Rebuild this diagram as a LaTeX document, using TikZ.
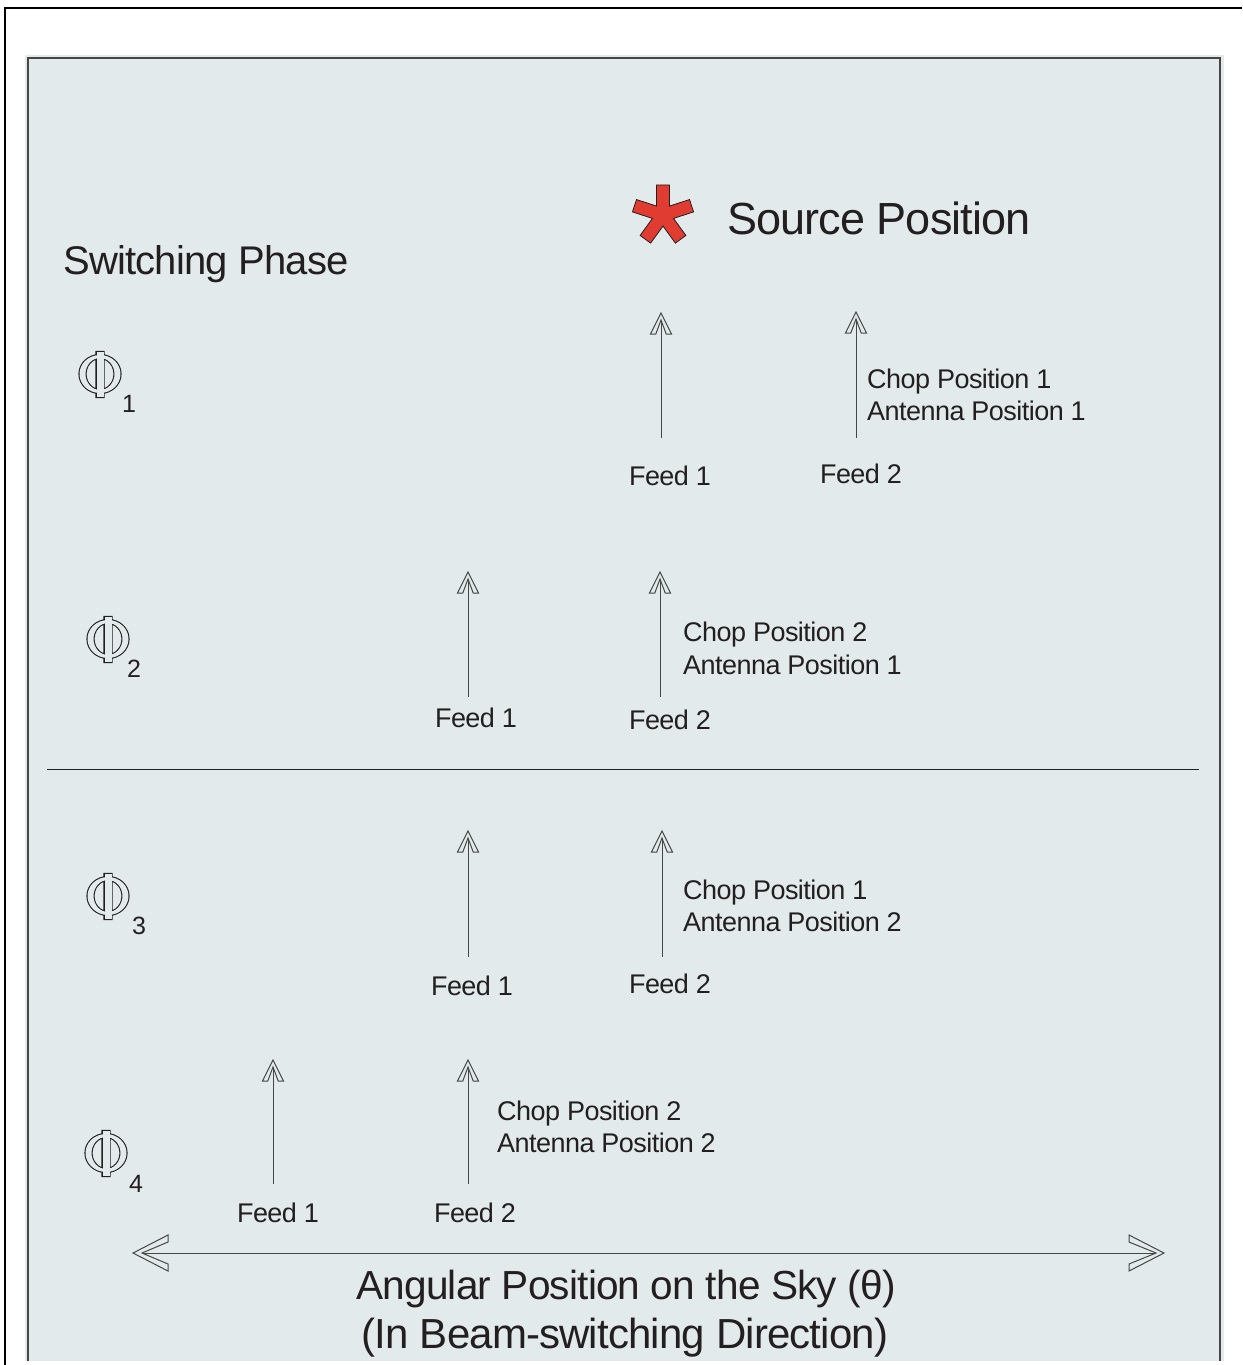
\documentclass[tikz,border=0pt]{standalone}
\usepackage{fontspec}
\setmainfont{Liberation Sans}[LetterSpace=-2]
\usetikzlibrary{calc}
\definecolor{panel}{RGB}{226,234,235}
\definecolor{ink}{RGB}{35,31,32}
\definecolor{starred}{RGB}{224,60,49}
\definecolor{edge}{RGB}{70,70,70}
\begin{document}
\begin{tikzpicture}[x=1pt,y=-1pt,
  small/.style={inner sep=0pt, text=ink, font=\fontsize{27}{32}\selectfont},
  subnum/.style={inner sep=0pt, text=ink, font=\fontsize{25}{30}\selectfont},
  big/.style={inner sep=0pt, text=ink, font=\fontsize{40}{48}\selectfont},
  huge/.style={inner sep=0pt, text=ink, font=\fontsize{45}{54}\selectfont},
  axis/.style={inner sep=0pt, text=ink, font=\fontsize{40.6}{50}\selectfont},
  axistwo/.style={inner sep=0pt, text=ink, font=\fontsize{42}{50}\selectfont},
  stem/.style={draw=edge, line width=1pt},
  headline/.style={draw=edge, fill=panel, line width=1pt, line join=miter},
  vhead/.pic={\path[headline] (0,0) -- (-10.5,21) -- (-5.2,21) -- (0,7) -- (5.2,21) -- (10.5,21) -- cycle;},
  lhead/.pic={\path[headline] (0,0) -- (35,-18) -- (35,-11) -- (9,0) -- (35,11) -- (35,18) -- cycle;},
  rhead/.pic={\path[headline] (0,0) -- (-35,-18) -- (-35,-11) -- (-8,0) -- (-35,11) -- (-35,18) -- cycle;},
  phipic/.pic={
    \draw[ink, line width=2.2pt] (0,0) ellipse [x radius=20.5, y radius=19]
      (0,0) ellipse [x radius=14.5, y radius=16] (-3.5,-22) rectangle (3.5,23);
    \fill[panel, even odd rule] (0,0) ellipse [x radius=20.5, y radius=19]
      (0,0) ellipse [x radius=14.5, y radius=16];
    \fill[panel] (-3.5,-22) rectangle (3.5,23);}
  ]
\useasboundingbox (0,0) rectangle (1242,1365);
\fill[white] (0,0) rectangle (1242,1365);
% outer frame
\draw[black, line width=1.7pt] (5,1365) -- (5,8) -- (1242,8);
% panel
\fill[panel] (25,55) rectangle (1224,1361);
\draw[edge, line width=1.4pt] (28,1361) -- (28,58) -- (1220,58) -- (1220,1361);

% titles
\node[big, anchor=base west] (swp) at (63,274) {Switching Phase};
\coordinate (sc) at (663,215);
\filldraw[fill=starred, draw=ink, line width=0.8pt, line join=miter]
  ($(sc)+(257.8:30.7)$) \foreach \k in {0,...,4}{
   -- ($(sc)+({270+72*\k-12.2}:30.7)$) -- ($(sc)+({270+72*\k+12.2}:30.7)$)
   -- ($(sc)+({270+72*\k+36}:11.06)$)} -- cycle;
\node[huge, anchor=base west] (src) at (727,234) {Source Position};

% phi symbols
\pic at (100,374) {phipic};
\node[subnum, anchor=base west] (s1) at (122,412) {1};
\pic at (108,639) {phipic};
\node[subnum, anchor=base west] (s2) at (127,677) {2};
\pic at (108,896) {phipic};
\node[subnum, anchor=base west] (s3) at (132,934) {3};
\pic at (106,1153) {phipic};
\node[subnum, anchor=base west] (s4) at (129,1192) {4};

% phase 1
\coordinate (p1ab) at (661,438); \coordinate (p1at) at (661,313);
\draw[stem] (p1ab) -- ($(p1at)+(0,7)$); \pic at (p1at) {vhead};
\coordinate (p1bb) at (856,438); \coordinate (p1bt) at (856,312);
\draw[stem] (p1bb) -- ($(p1bt)+(0,7)$); \pic at (p1bt) {vhead};
\node[small, anchor=base] (p1f1) at (670,485) {Feed 1};
\node[small, anchor=base] (p1f2) at (861,483) {Feed 2};
\node[small, anchor=base west] (p1c) at (867,388) {Chop Position 1};
\node[small, anchor=base west] (p1p) at (867,420) {Antenna Position 1};

% phase 2
\coordinate (p2ab) at (468,697); \coordinate (p2at) at (468,572);
\draw[stem] (p2ab) -- ($(p2at)+(0,7)$); \pic at (p2at) {vhead};
\coordinate (p2bb) at (660,697); \coordinate (p2bt) at (660,572);
\draw[stem] (p2bb) -- ($(p2bt)+(0,7)$); \pic at (p2bt) {vhead};
\node[small, anchor=base] (p2f1) at (476,727) {Feed 1};
\node[small, anchor=base] (p2f2) at (670,729) {Feed 2};
\node[small, anchor=base west] (p2c) at (683,641) {Chop Position 2};
\node[small, anchor=base west] (p2p) at (683,674) {Antenna Position 1};

% separator
\coordinate (sepl) at (47,769); \coordinate (sepr) at (1199,769);
\draw[ink, line width=0.9pt] (sepl) -- (sepr);

% phase 3
\coordinate (p3ab) at (468,957); \coordinate (p3at) at (468,831);
\draw[stem] (p3ab) -- ($(p3at)+(0,7)$); \pic at (p3at) {vhead};
\coordinate (p3bb) at (662,957); \coordinate (p3bt) at (662,831);
\draw[stem] (p3bb) -- ($(p3bt)+(0,7)$); \pic at (p3bt) {vhead};
\node[small, anchor=base] (p3f1) at (472,995) {Feed 1};
\node[small, anchor=base] (p3f2) at (670,993) {Feed 2};
\node[small, anchor=base west] (p3c) at (683,899) {Chop Position 1};
\node[small, anchor=base west] (p3p) at (683,931) {Antenna Position 2};

% phase 4
\coordinate (p4ab) at (273,1184); \coordinate (p4at) at (273,1060);
\draw[stem] (p4ab) -- ($(p4at)+(0,7)$); \pic at (p4at) {vhead};
\coordinate (p4bb) at (468,1184); \coordinate (p4bt) at (468,1060);
\draw[stem] (p4bb) -- ($(p4bt)+(0,7)$); \pic at (p4bt) {vhead};
\node[small, anchor=base] (p4f1) at (278,1222) {Feed 1};
\node[small, anchor=base] (p4f2) at (475,1222) {Feed 2};
\node[small, anchor=base west] (p4c) at (497,1120) {Chop Position 2};
\node[small, anchor=base west] (p4p) at (497,1152) {Antenna Position 2};

% axis arrow
\coordinate (axl) at (133,1253); \coordinate (axr) at (1164,1253);
\draw[stem] ($(axl)+(9,0)$) -- ($(axr)+(-8,0)$);
\pic at (axl) {lhead};
\pic at (axr) {rhead};
\node[axis, anchor=base] (ax1) at (626,1299) {Angular Position on the Sky (θ)};
\node[axistwo, anchor=base] (ax2) at (625,1348) {(In Beam-switching Direction)};
\end{tikzpicture}
\end{document}
